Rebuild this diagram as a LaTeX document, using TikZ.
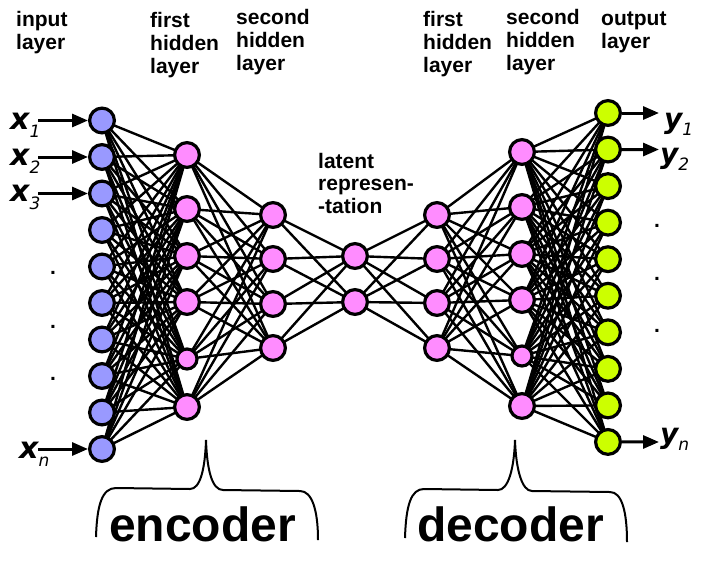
\documentclass[tikz,border=0pt]{standalone}
\usepackage{fontspec}
\setmainfont{Liberation Sans}
\newfontfamily\varfont{DejaVu Sans}
\usetikzlibrary{arrows.meta,backgrounds}
\definecolor{inblue}{HTML}{9999FF}
\definecolor{hidpink}{HTML}{FF8CFF}
\definecolor{outgreen}{HTML}{CCFF00}
\begin{document}
\begin{tikzpicture}[x=1pt,y=-1pt,
  neuron/.style={circle,draw=black,line width=3.2pt,minimum size=24.8pt,inner sep=0pt},
  smallneuron/.style={neuron,minimum size=20pt},
  edge/.style={line width=2.4pt,black},
  arr/.style={line width=3pt,-{Triangle[length=16pt,width=13pt]}},
  lbl/.style={anchor=base west,inner sep=0pt,font=\bfseries\fontsize{21}{23}\selectfont},
  varx/.style={anchor=base west,inner sep=0pt},
  dotlbl/.style={anchor=base,inner sep=0pt,font=\bfseries\fontsize{21}{23}\selectfont},
  brace/.style={line width=2pt,black},
  big/.style={anchor=base west,inner sep=0pt,font=\bfseries\fontsize{48}{50}\selectfont}]
\useasboundingbox (0,0) rectangle (706,576);

% input layer
\foreach \i in {1,...,10}
  \node[neuron,fill=inblue] (i\i) at (102,{120.5+36.5*(\i-1)}) {};
% encoder first hidden
\foreach \i/\y in {1/155,2/209,3/256,4/302,6/407}
  \node[neuron,fill=hidpink] (a\i) at (187,\y) {};
\node[smallneuron,fill=hidpink] (a5) at (187,359) {};
% encoder second hidden
\foreach \i/\y in {1/215,2/259,3/304,4/348}
  \node[neuron,fill=hidpink] (b\i) at (273,\y) {};
% latent
\node[neuron,fill=hidpink] (z1) at (355,256) {};
\node[neuron,fill=hidpink] (z2) at (355,302) {};
% decoder first hidden
\foreach \i/\y in {1/215,2/259,3/303,4/348}
  \node[neuron,fill=hidpink] (c\i) at (437,\y) {};
% decoder second hidden
\foreach \i/\y in {1/152,2/207,3/254,4/300,6/406}
  \node[neuron,fill=hidpink] (d\i) at (522,\y) {};
\node[smallneuron,fill=hidpink] (d5) at (522,356) {};
% output layer
\foreach \i in {1,...,10}
  \node[neuron,fill=outgreen] (o\i) at (608,{113+36.55*(\i-1)}) {};

% connections
\begin{scope}[on background layer]
  \foreach \i in {1,...,10}
    \foreach \j in {1,...,6}
      \draw[edge] (i\i.center) -- (a\j.center);
  \foreach \i in {1,...,6}
    \foreach \j in {1,...,4}
      \draw[edge] (a\i.center) -- (b\j.center);
  \foreach \i in {1,...,4}
    \foreach \j in {1,2}
      \draw[edge] (b\i.center) -- (z\j.center);
  \foreach \i in {1,2}
    \foreach \j in {1,...,4}
      \draw[edge] (z\i.center) -- (c\j.center);
  \foreach \i in {1,...,4}
    \foreach \j in {1,...,6}
      \draw[edge] (c\i.center) -- (d\j.center);
  \foreach \i in {1,...,6}
    \foreach \j in {1,...,10}
      \draw[edge] (d\i.center) -- (o\j.center);
\end{scope}

% input arrows and labels
\coordinate (s1) at (38,120.5);
\coordinate (s2) at (38,157);
\coordinate (s3) at (38,193.5);
\coordinate (sn) at (38,449);
\draw[arr] (s1) -- (i1);
\draw[arr] (s2) -- (i2);
\draw[arr] (s3) -- (i3);
\draw[arr] (sn) -- (i10);
\newcommand{\xlbl}[2]{{\varfont\fontsize{30}{32}\selectfont\bfseries\itshape #1}\raisebox{-8pt}{\varfont\fontsize{17}{18}\selectfont\itshape #2}}
\newcommand{\ylbl}[2]{{\varfont\fontsize{28}{32}\selectfont\bfseries\itshape #1}\raisebox{-7pt}{\varfont\fontsize{17}{18}\selectfont\itshape #2}}
\node[varx] (lx1) at (10,129) {\xlbl{x}{1}};
\node[varx] (lx2) at (10,165.5) {\xlbl{x}{2}};
\node[varx] (lx3) at (10,201) {\xlbl{x}{3}};
\node[varx] (lxn) at (19,458) {\xlbl{x}{n}};

% output arrows and labels
\coordinate (e1) at (659,113);
\coordinate (e2) at (659,149.5);
\coordinate (en) at (659,442);
\draw[arr] (o1) -- (e1);
\draw[arr] (o2) -- (e2);
\draw[arr] (o10) -- (en);
\node[varx] (ly1) at (664,128) {\ylbl{y}{1}};
\node[varx] (ly2) at (660,163) {\ylbl{y}{2}};
\node[varx] (lyn) at (660,443) {\ylbl{y}{n}};

% dots
\node[dotlbl] (dl1) at (53,274) {.};
\node[dotlbl] (dl2) at (53,328) {.};
\node[dotlbl] (dl3) at (53,380) {.};
\node[dotlbl] (dr1) at (657,227) {.};
\node[dotlbl] (dr2) at (657,280) {.};
\node[dotlbl] (dr3) at (657,332) {.};

% layer labels
\node[lbl] (t1) at (16,26) {\begin{tabular}[t]{@{}l@{}}input\\layer\end{tabular}};
\node[lbl] (t2) at (150,27) {\begin{tabular}[t]{@{}l@{}}first\\hidden\\layer\end{tabular}};
\node[lbl] (t3) at (236,24) {\begin{tabular}[t]{@{}l@{}}second\\hidden\\layer\end{tabular}};
\node[lbl,font=\bfseries\fontsize{21}{22.5}\selectfont] (t4) at (318,168) {\begin{tabular}[t]{@{}l@{}}latent\\represen-\\-tation\end{tabular}};
\node[lbl] (t5) at (423,26) {\begin{tabular}[t]{@{}l@{}}first\\hidden\\layer\end{tabular}};
\node[lbl] (t6) at (506,24) {\begin{tabular}[t]{@{}l@{}}second\\hidden\\layer\end{tabular}};
\node[lbl] (t7) at (601,25) {\begin{tabular}[t]{@{}l@{}}output\\layer\end{tabular}};

% braces
\draw[brace] (96,537) .. controls (97,505) and (102,488) .. (116,488) -- (190,489)
  .. controls (200,489) and (205,470) .. (206,440)
  .. controls (207,470) and (212,490) .. (223,490) -- (300,491)
  .. controls (312,491) and (318,510) .. (318,540);
\draw[brace] (405,538) .. controls (406,505) and (411,489) .. (424,489) -- (498,490)
  .. controls (508,490) and (514,470) .. (515,440)
  .. controls (516,470) and (522,491) .. (532,491) -- (610,492)
  .. controls (622,492) and (627,512) .. (627,542);
\node[big] (enc) at (109,541) {encoder};
\node[big] (dec) at (417,541) {decoder};
\end{tikzpicture}
\end{document}
